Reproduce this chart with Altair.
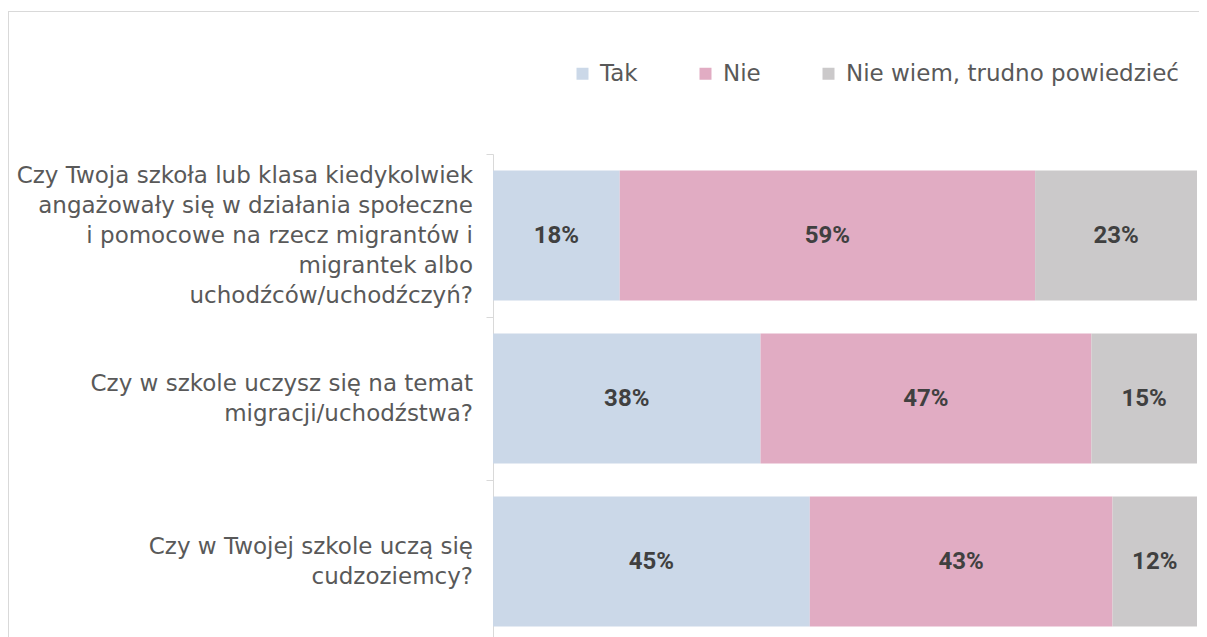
import altair as alt
import pandas as pd

questions = [
    "Czy Twoja szkoła lub klasa kiedykolwiek\nangażowały się w działania społeczne\ni pomocowe  na rzecz migrantów i\nmigrantek albo\nuchodźców/uchodźczyń?",
    "Czy w szkole uczysz się na temat\nmigracji/uchodźstwa?",
    "Czy w Twojej szkole uczą się\ncudzoziemcy?",
]
answers = ["Tak", "Nie", "Nie wiem, trudno powiedzieć"]
tak = [18, 38, 45]
nie = [59, 47, 43]
nie_wiem = [23, 15, 12]
colors = ["#CBD8E8", "#E1ACC3", "#CBC9CA"]

rows = []
for qi, q in enumerate(questions):
    for ai, (a, vals) in enumerate(zip(answers, [tak, nie, nie_wiem])):
        rows.append({"question": q, "answer": a, "order": ai, "value": vals[qi]})
df = pd.DataFrame(rows)

FONT = "DejaVu Sans"
LINE_H = 30

base = alt.Chart(df).transform_stack(
    stack="value", groupby=["question"], as_=["v0", "v1"],
    sort=[alt.SortField("order", order="ascending")]
).transform_calculate(mid="(datum.v0 + datum.v1) / 2")

yenc = alt.Y(
    "question:N", sort=questions, title=None,
    scale=alt.Scale(paddingInner=0, paddingOuter=0),
    axis=alt.Axis(
        labels=False, tickSize=7, tickBand="extent",
        tickColor="#D9D9D9", domainColor="#D9D9D9", grid=False,
    ),
)
xscale = alt.Scale(domain=[0, 100], nice=False)

bars = base.mark_bar(size=130).encode(
    y=yenc,
    x=alt.X("v0:Q", scale=xscale, axis=None),
    x2="v1:Q",
    color=alt.Color(
        "answer:N", sort=answers,
        scale=alt.Scale(domain=answers, range=colors),
        legend=alt.Legend(
            title=None, orient="none", direction="horizontal", columns=3,
            legendX=78, legendY=-92, padding=0,
            symbolType="square", symbolSize=144, symbolStrokeWidth=0,
            labelFont=FONT, labelFontSize=23, labelColor="#595959",
            labelOffset=6, columnPadding=56, labelLimit=600,
        ),
    ),
)

values_text = base.mark_text(
    font="Roboto", fontSize=24, fontWeight="bold", color="#404040"
).encode(
    y=alt.Y("question:N", sort=questions),
    x=alt.X("mid:Q", scale=xscale),
    text=alt.Text("label:N"),
).transform_calculate(label="datum.value + '%'")

# Question labels: multi-line text grows downward from its anchor, so each
# group of labels with the same line count gets its own centring shift.
q_df = pd.DataFrame({"question": questions, "nlines": [len(q.split("\n")) for q in questions]})
q_layers = []
for n in sorted(q_df["nlines"].unique()):
    q_layers.append(
        alt.Chart(q_df[q_df["nlines"] == n]).mark_text(
            align="right", baseline="middle", lineBreak="\n", lineHeight=LINE_H,
            font=FONT, fontSize=23, color="#595959", dy=-(int(n) - 1) * LINE_H / 2,
        ).encode(
            y=alt.Y("question:N", sort=questions),
            x=alt.value(-20),
            text="question:N",
        )
    )

frame_df = pd.DataFrame({"a": [0]})
frame_left = alt.Chart(frame_df).mark_rule(color="#D9D9D9", strokeWidth=1).encode(
    x=alt.value(-484.5), y=alt.value(-142.5), y2=alt.value(489)
)
frame_top = alt.Chart(frame_df).mark_rule(color="#D9D9D9", strokeWidth=1).encode(
    x=alt.value(-485), x2=alt.value(706), y=alt.value(-142.5)
)

chart = alt.layer(frame_left, frame_top, bars, values_text, *q_layers).properties(
    width=704, height=489,
    autosize=alt.AutoSizeParams(type="none"),
    padding={"left": 485, "top": 146, "right": 2, "bottom": 0},
).configure_view(strokeWidth=0)

chart.save("out.html", embed_options={"renderer": "svg", "actions": False})
